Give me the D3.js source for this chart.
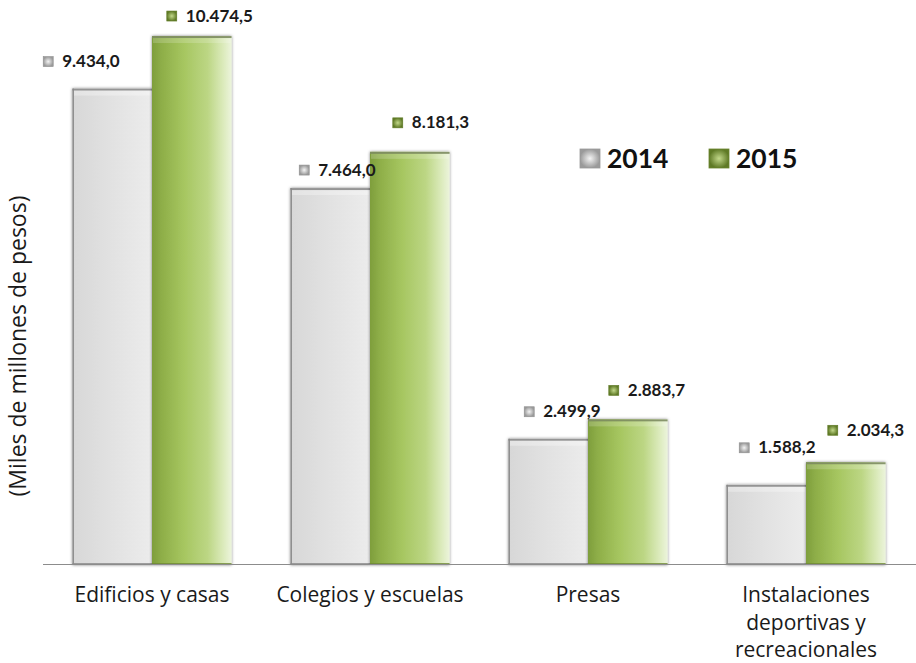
<!DOCTYPE html>
<html>
<head>
<meta charset="utf-8">
<script src="https://cdn.jsdelivr.net/npm/d3@7"></script>
<style>
  html, body { margin: 0; padding: 0; background: #fff; }
  svg { display: block; }
</style>
</head>
<body>
<svg id="chart" width="916" height="663"></svg>
<script>
// ---- data ----
const categories = ["Edificios y casas", "Colegios y escuelas", "Presas", "Instalaciones deportivas y recreacionales"];
const categoryLines = [["Edificios y casas"], ["Colegios y escuelas"], ["Presas"], ["Instalaciones", "deportivas y", "recreacionales"]];
const seriesNames = ["2014", "2015"];
const values2014 = [9434.0, 7464.0, 2499.9, 1588.2];
const values2015 = [10474.5, 8181.3, 2883.7, 2034.3];
const valueLabels2014 = ["9.434,0", "7.464,0", "2.499,9", "1.588,2"];
const valueLabels2015 = ["10.474,5", "8.181,3", "2.883,7", "2.034,3"];
const yTitle = "(Miles de millones de pesos)";

// ---- layout (label nudges, manually placed in original) ----
const labelNudge2014 = [[-69, -27], [-31, -18], [-24, -27], [-27, -37]];
const labelNudge2015 = [[-25, -20], [-17, -29], [-19, -29], [-18, -32]];

const svg = d3.select("#chart");
const defs = svg.append("defs");

function hGrad(id, stops) {
  const g = defs.append("linearGradient").attr("id", id).attr("x1", "0").attr("x2", "1").attr("y1", "0").attr("y2", "0");
  stops.forEach(s => g.append("stop").attr("offset", s[0]).attr("stop-color", s[1]));
}
hGrad("gGray", [[0, "#d7d7d7"], [0.5, "#e2e2e2"], [1, "#ececec"]]);
hGrad("gGreen", [[0, "#7e9e3c"], [0.12, "#8eae48"], [0.4, "#a6c660"], [0.7, "#bcd684"], [0.9, "#dcebbd"], [1, "#ecf4dc"]]);
const mk = (id, c1, c2) => {
  const g = defs.append("radialGradient").attr("id", id);
  g.append("stop").attr("offset", 0).attr("stop-color", c1);
  g.append("stop").attr("offset", 1).attr("stop-color", c2);
};
mk("mGray", "#f4f4f4", "#9a9a9a");
mk("mGreen", "#c2d88a", "#5f7a26");

const shadow = defs.append("filter").attr("id", "shadow").attr("x", "-10%").attr("y", "-10%").attr("width", "130%").attr("height", "130%");
shadow.append("feDropShadow").attr("dx", 0).attr("dy", 0).attr("stdDeviation", 1.8).attr("flood-color", "#000").attr("flood-opacity", 0.5);

// scales
const x0 = d3.scaleBand().domain(categories).range([43, 915]).paddingInner(0.27).paddingOuter(0.135);
const x1 = d3.scaleBand().domain(seriesNames).range([0, x0.bandwidth()]).padding(0);
const y = d3.scaleLinear().domain([0, 11000]).range([565, 9.5]);

const series = [
  { name: "2014", values: values2014, labels: valueLabels2014, nudge: labelNudge2014, fill: "url(#gGray)", top: "#8c8c8c", marker: "url(#mGray)" },
  { name: "2015", values: values2015, labels: valueLabels2015, nudge: labelNudge2015, fill: "url(#gGreen)", top: "#7d8c62", marker: "url(#mGreen)" }
];

const barsG = svg.append("g");
series.forEach(s => {
  const g = barsG.append("g");
  categories.forEach((c, i) => {
    const bx = x0(c) + x1(s.name);
    const bw = x1.bandwidth();
    const by = y(s.values[i]);
    const bh = y(0) - by;
    g.append("rect").attr("x", bx).attr("y", by).attr("width", bw).attr("height", bh)
      .attr("fill", s.fill).attr("filter", "url(#shadow)");
    g.append("rect").attr("x", bx).attr("y", by).attr("width", bw).attr("height", 2).attr("fill", s.top).attr("opacity", 0.9);
    g.append("rect").attr("x", bx + 1).attr("y", by + 2).attr("width", bw - 2).attr("height", 5)
      .attr("fill", "#ffffff").attr("opacity", s.name === "2015" ? 0.18 : 0.3);
    if (s.name === "2014") {
      g.append("rect").attr("x", bx).attr("y", by).attr("width", 1.5).attr("height", bh).attr("fill", "#8a8a8a");
    }
    g.append("rect").attr("x", bx).attr("y", y(0) - 2).attr("width", bw).attr("height", 2).attr("fill", s.name === "2015" ? "#6f8a36" : "#8a8a8a").attr("opacity", 0.8);
  });
});

// axis line
svg.append("line").attr("x1", 43).attr("x2", 916).attr("y1", 564.5).attr("y2", 564.5).attr("stroke", "#8c8c8c").attr("stroke-width", 1);

// value labels
series.forEach(s => {
  categories.forEach((c, i) => {
    const cx = x0(c) + x1(s.name) + x1.bandwidth() / 2;
    const mx = cx + s.nudge[i][0];
    const my = y(s.values[i]) + s.nudge[i][1];
    svg.append("rect").attr("x", mx).attr("y", my - 5).attr("width", 10).attr("height", 10)
      .attr("fill", s.marker).attr("stroke", s.name === "2015" ? "#5f7a26" : "#8f8f8f").attr("stroke-width", 0.6);
    svg.append("text").attr("x", mx + 19).attr("y", my + 5.5)
      .attr("font-family", "Lato, 'Open Sans', sans-serif").attr("font-weight", "bold").attr("font-size", 17)
      .attr("fill", "#1a1a1a").text(s.labels[i]);
  });
});

// category labels
categories.forEach((c, i) => {
  const t = svg.append("text").attr("text-anchor", "middle")
    .attr("font-family", "'Open Sans', sans-serif").attr("font-size", 21).attr("fill", "#1a1a1a");
  categoryLines[i].forEach((line, j) => {
    t.append("tspan").attr("x", x0(c) + x0.bandwidth() / 2).attr("y", 602 + j * 27.5).text(line);
  });
});

// y title
svg.append("text").attr("transform", "translate(26,346) rotate(-90)").attr("text-anchor", "middle")
  .attr("font-family", "'Open Sans', sans-serif").attr("font-size", 23).attr("fill", "#1a1a1a").text(yTitle);

// legend
const legendX = [580, 709];
series.forEach((s, i) => {
  svg.append("rect").attr("x", legendX[i]).attr("y", 149).attr("width", 20).attr("height", 19)
    .attr("fill", s.marker).attr("stroke", s.name === "2015" ? "#6a842e" : "#9a9a9a").attr("stroke-width", 0.8);
  svg.append("text").attr("x", legendX[i] + 27).attr("y", 168)
    .attr("font-family", "Lato, 'Open Sans', sans-serif").attr("font-weight", "bold").attr("font-size", 26.5)
    .attr("fill", "#111").text(s.name);
});
</script>
</body>
</html>
